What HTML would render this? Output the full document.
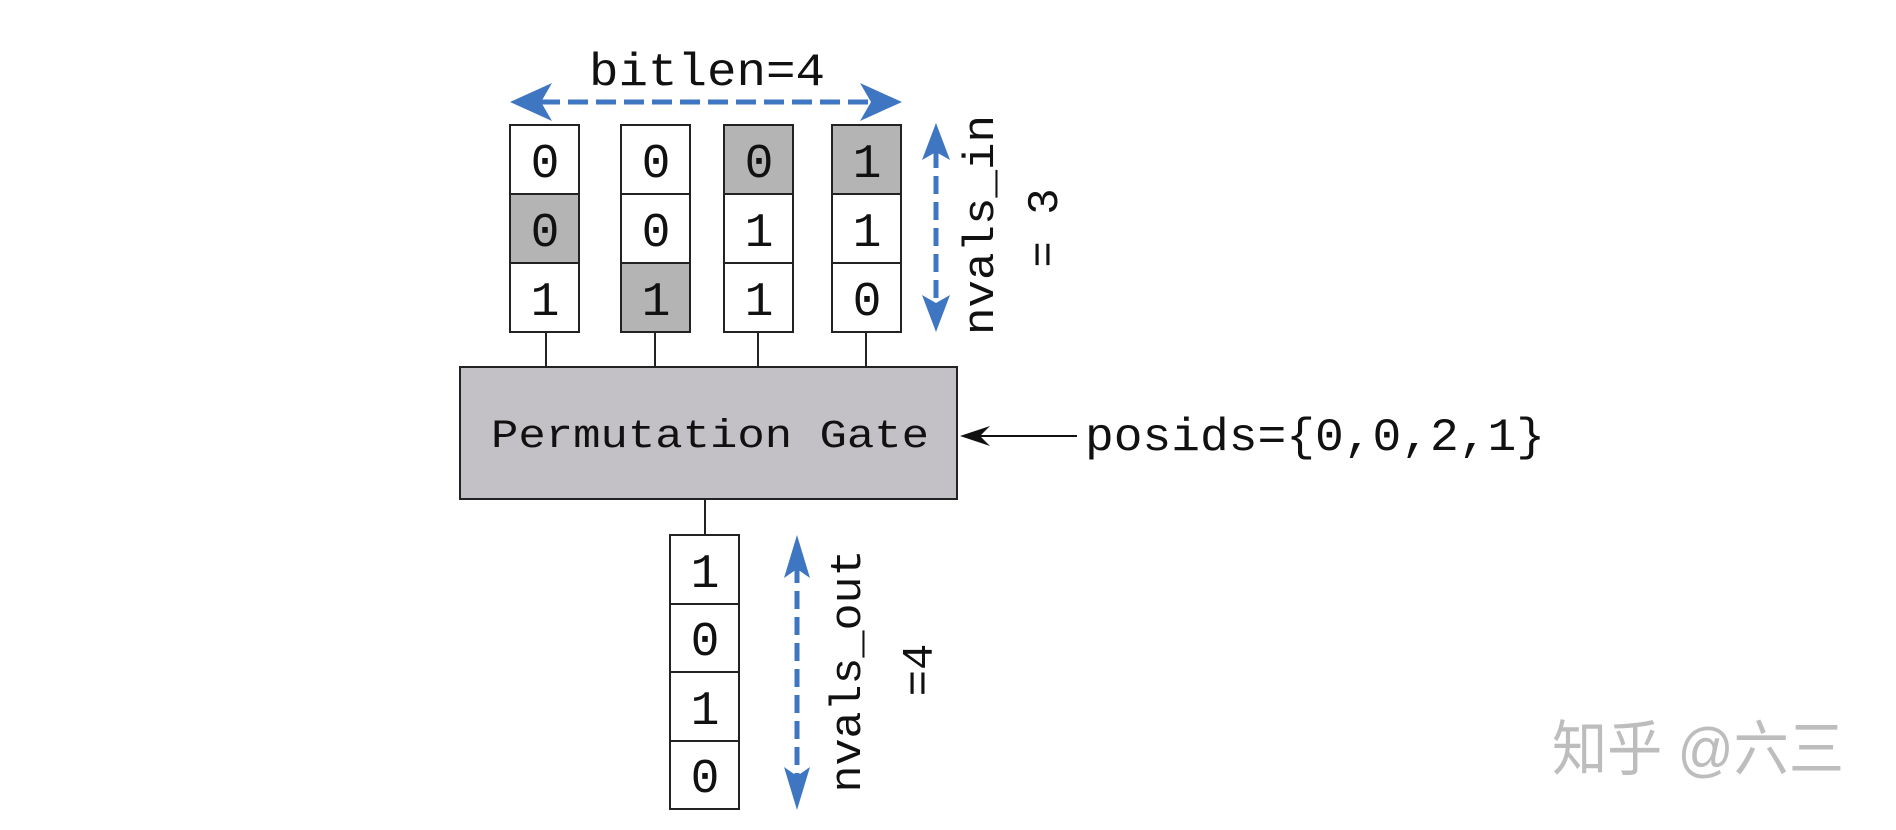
<!DOCTYPE html>
<html><head><meta charset="utf-8"><style>
html,body{margin:0;padding:0;background:#fff;}
svg{display:block;}
text{font-family:"Liberation Mono",monospace;fill:#111;}
</style></head><body>
<svg width="1896" height="830" viewBox="0 0 1896 830" xmlns="http://www.w3.org/2000/svg">
<!-- bitlen arrow -->
<line x1="540" y1="102" x2="872" y2="102" stroke="#3f76c2" stroke-width="5" stroke-dasharray="20,8"/>
<polygon points="510,102 552,83 541,102 552,121" fill="#3f76c2"/>
<polygon points="902,102 860,83 871,102 860,121" fill="#3f76c2"/>
<text x="707" y="85" font-size="46" text-anchor="middle" textLength="236" lengthAdjust="spacingAndGlyphs">bitlen=4</text>

<g stroke="#222" stroke-width="2">
<rect x="510" y="125" width="69" height="69" fill="#fff"/>
<rect x="510" y="194" width="69" height="69" fill="#b4b4b4"/>
<rect x="510" y="263" width="69" height="69" fill="#fff"/>
<rect x="621" y="125" width="69" height="69" fill="#fff"/>
<rect x="621" y="194" width="69" height="69" fill="#fff"/>
<rect x="621" y="263" width="69" height="69" fill="#b4b4b4"/>
<rect x="724" y="125" width="69" height="69" fill="#b4b4b4"/>
<rect x="724" y="194" width="69" height="69" fill="#fff"/>
<rect x="724" y="263" width="69" height="69" fill="#fff"/>
<rect x="832" y="125" width="69" height="69" fill="#b4b4b4"/>
<rect x="832" y="194" width="69" height="69" fill="#fff"/>
<rect x="832" y="263" width="69" height="69" fill="#fff"/>
<line x1="546" y1="332" x2="546" y2="367"/>
<line x1="655" y1="332" x2="655" y2="367"/>
<line x1="758" y1="332" x2="758" y2="367"/>
<line x1="866" y1="332" x2="866" y2="367"/>
<line x1="705" y1="499" x2="705" y2="535"/>
<rect x="460" y="367" width="497" height="132" fill="#c4c1c6"/>
<rect x="670" y="535" width="69" height="69" fill="#fff"/>
<rect x="670" y="604" width="69" height="68" fill="#fff"/>
<rect x="670" y="672" width="69" height="69" fill="#fff"/>
<rect x="670" y="741" width="69" height="68" fill="#fff"/>
</g>
<g font-size="48" text-anchor="middle">
<text x="545" y="177">0</text><text x="545" y="246">0</text><text x="545" y="315">1</text>
<text x="656" y="177">0</text><text x="656" y="246">0</text><text x="656" y="315">1</text>
<text x="759" y="177">0</text><text x="759" y="246">1</text><text x="759" y="315">1</text>
<text x="867" y="177">1</text><text x="867" y="246">1</text><text x="867" y="315">0</text>
<text x="705" y="587">1</text><text x="705" y="655">0</text><text x="705" y="724">1</text><text x="705" y="792">0</text>
</g>
<text x="710" y="447" font-size="40" text-anchor="middle" textLength="438" lengthAdjust="spacingAndGlyphs">Permutation Gate</text>

<line x1="936" y1="150" x2="936" y2="305" stroke="#3f76c2" stroke-width="5" stroke-dasharray="18,8"/>
<polygon points="936,123 922,160 936,152 950,160" fill="#3f76c2"/>
<polygon points="936,332 922,295 936,303 950,295" fill="#3f76c2"/>
<text transform="translate(993,225) rotate(-90)" font-size="44" text-anchor="middle" textLength="220" lengthAdjust="spacingAndGlyphs">nvals_in</text>
<text transform="translate(1057,228) rotate(-90)" font-size="44" text-anchor="middle">= 3</text>

<line x1="975" y1="436" x2="1077" y2="436" stroke="#111" stroke-width="2"/>
<polygon points="960,436 990,426 980,436 990,446" fill="#111"/>
<text x="1085" y="450" font-size="46" textLength="460" lengthAdjust="spacingAndGlyphs">posids={0,0,2,1}</text>

<line x1="797" y1="565" x2="797" y2="780" stroke="#3f76c2" stroke-width="5" stroke-dasharray="18,8"/>
<polygon points="797,535 784,578 797,569 810,578" fill="#3f76c2"/>
<polygon points="797,810 784,767 797,776 810,767" fill="#3f76c2"/>
<text transform="translate(860,671) rotate(-90)" font-size="44" text-anchor="middle" textLength="243" lengthAdjust="spacingAndGlyphs">nvals_out</text>
<text transform="translate(932,670) rotate(-90)" font-size="44" text-anchor="middle">=4</text>

<text x="1552" y="770" font-size="60" textLength="292" lengthAdjust="spacingAndGlyphs" style="font-family:'Liberation Sans','Noto Sans CJK SC',sans-serif;fill:#bdbdbd">知乎 @六三</text>
</svg>
</body></html>
